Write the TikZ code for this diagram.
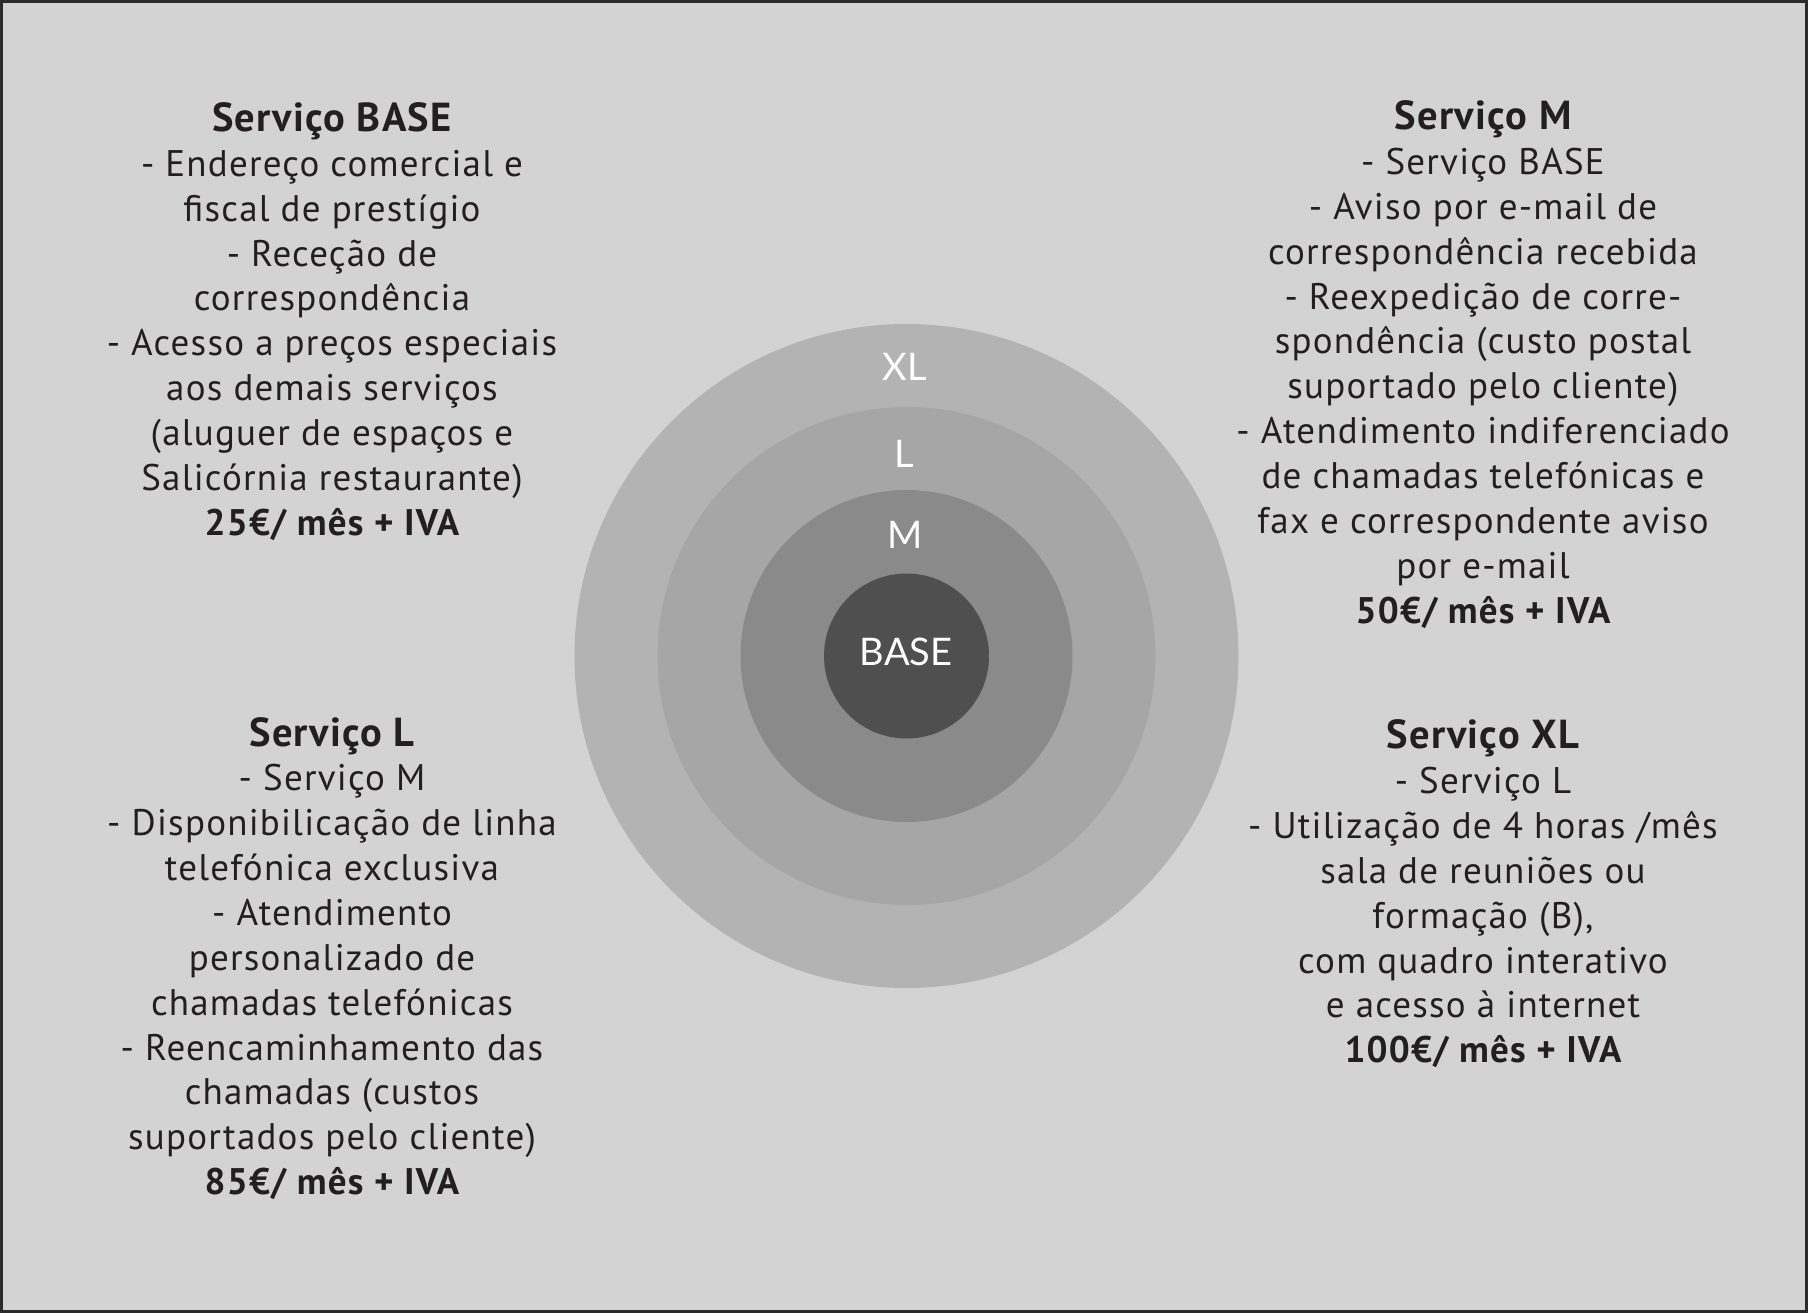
\documentclass[tikz,border=0pt]{standalone}
\usepackage{fontspec}
\setmainfont{PT Sans}[LetterSpace=3.3]
\newfontfamily\ringfont{Lato}
\definecolor{bgc}{HTML}{D3D3D3}
\definecolor{xlc}{HTML}{B3B3B3}
\definecolor{lc}{HTML}{A6A6A6}
\definecolor{mc}{HTML}{8A8A8A}
\definecolor{basec}{HTML}{4F4F4F}
\definecolor{txt}{HTML}{231F20}
\definecolor{framec}{HTML}{2B2B2B}
\newcommand{\ttl}[1]{{\fontsize{40.5}{44.85}\selectfont\bfseries #1}}
\newcommand{\price}[1]{{\bfseries #1}}
\begin{document}
\begin{tikzpicture}[x=1pt,y=-1pt,
  ring/.style={circle, inner sep=0pt, minimum size=#1, draw=none},
  ringlabel/.style={text=white, inner sep=0pt, font=\ringfont\fontsize{38}{40}\selectfont},
  blocktext/.style={align=center, inner sep=0pt, text=txt, font=\fontsize{37}{44.85}\selectfont}]
\useasboundingbox (0,0) rectangle (1808,1313);
\fill[bgc] (0,0) rectangle (1808,1313);
\draw[framec, line width=3pt] (1.5,1.5) rectangle (1806.5,1311.5);

\node[ring=664pt, fill=xlc] (xl) at (906.5,656) {};
\node[ring=498pt, fill=lc] (l) at (906.5,656) {};
\node[ring=332pt, fill=mc] (m) at (906.5,656) {};
\node[ring=165pt, fill=basec] (base) at (906.5,656) {};

\node[ringlabel] (xllab) at (905,367) {XL};
\node[ringlabel] (llab) at (904,454) {L};
\node[ringlabel] (mlab) at (905,535) {M};
\node[ringlabel] (baselab) at (906,652) {BASE};

\node[blocktext] (tbase) at (332,321.5) {\ttl{Serviço BASE}\\
- Endereço comercial e\\
fiscal de prestígio\\
- Receção de\\
correspondência\\
- Acesso a preços especiais\\
aos demais serviços\\
(aluguer de espaços e\\
Salicórnia restaurante)\\
\price{25€/ mês + IVA}};

\node[blocktext] (tm) at (1483,364.5) {\ttl{Serviço M}\\
- Serviço BASE\\
- Aviso por e-mail de\\
correspondência recebida\\
- Reexpedição de corre-\\
spondência (custo postal\\
suportado pelo cliente)\\
- Atendimento indiferenciado\\
de chamadas telefónicas e\\
fax e correspondente aviso\\
por e-mail\\
\price{50€/ mês + IVA}};

\node[blocktext] (tl) at (332,958.5) {\ttl{Serviço L}\\
- Serviço M\\
- Disponibilicação de linha\\
telefónica exclusiva\\
- Atendimento\\
personalizado de\\
chamadas telefónicas\\
- Reencaminhamento das\\
chamadas (custos\\
suportados pelo cliente)\\
\price{85€/ mês + IVA}};

\node[blocktext] (txl) at (1483,894) {\ttl{Serviço XL}\\
- Serviço L\\
- Utilização de 4 horas /mês\\
sala de reuniões ou\\
formação (B),\\
com quadro interativo\\
e acesso à internet\\
\price{100€/ mês + IVA}};
\end{tikzpicture}
\end{document}
